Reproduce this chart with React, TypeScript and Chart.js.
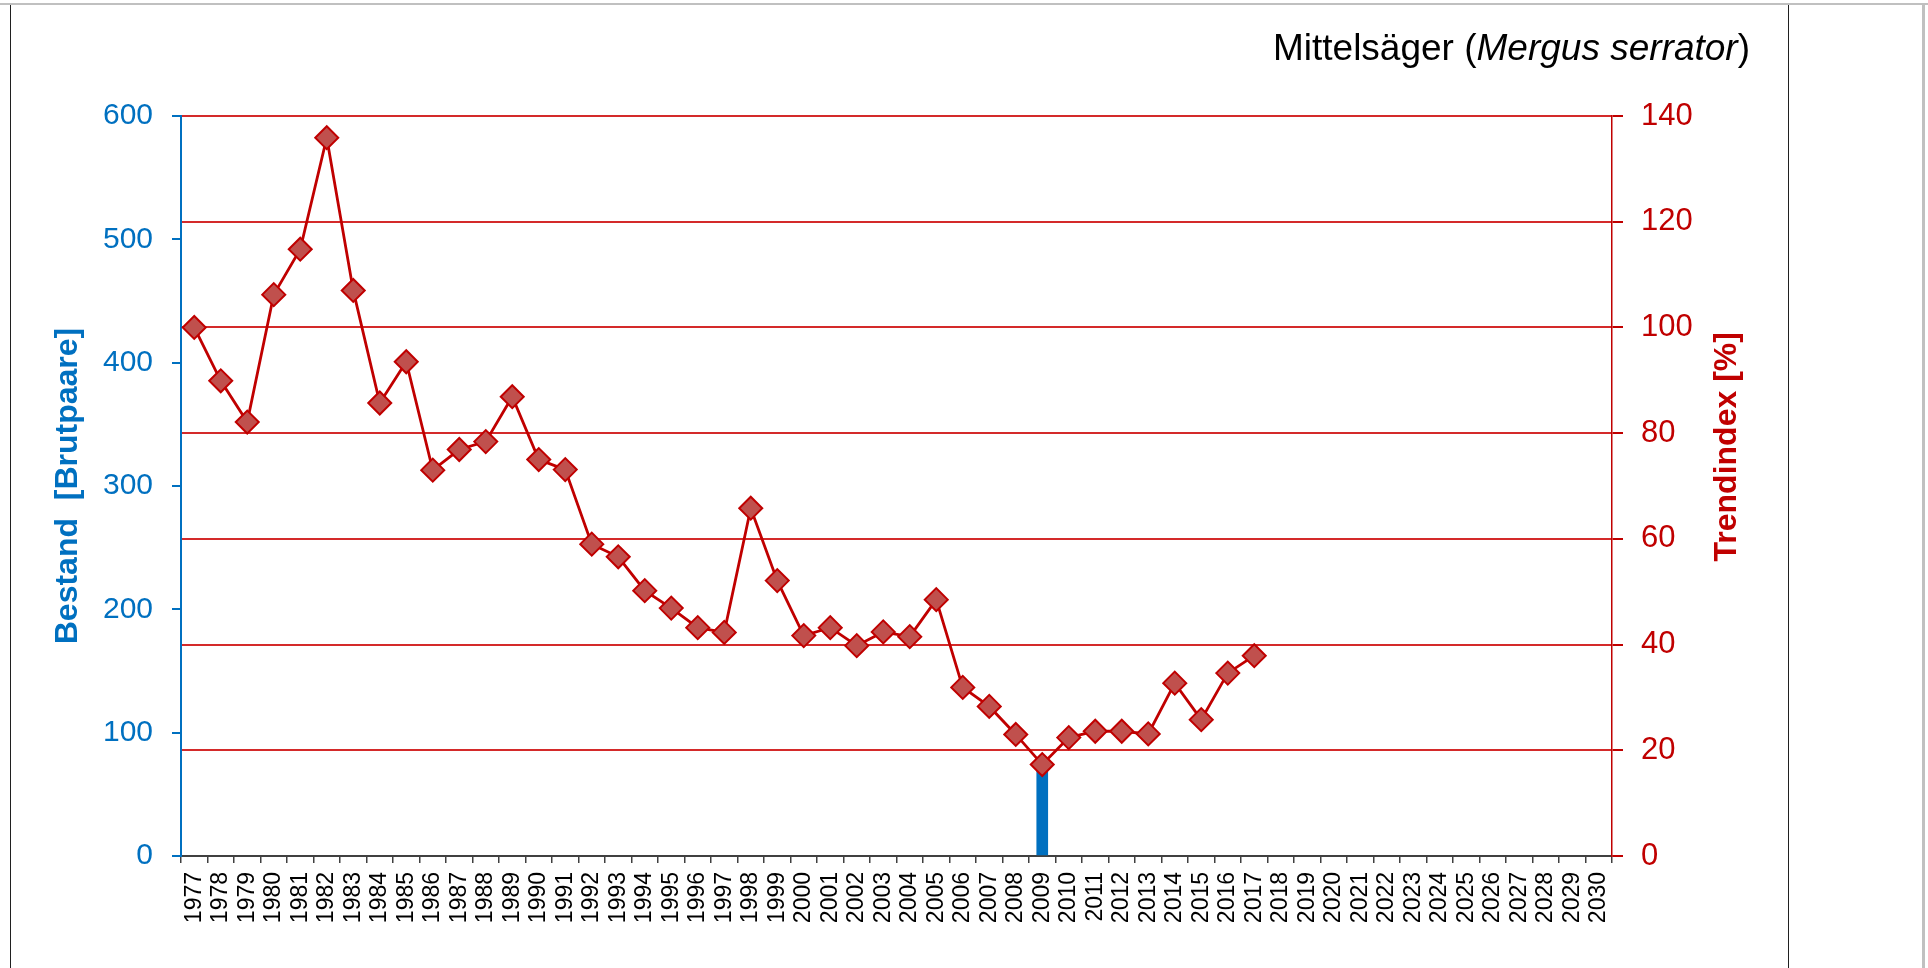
import React, { useEffect, useRef } from "react";
import { Chart, registerables } from "chart.js";

Chart.register(...registerables);

const FONT = "'Liberation Sans', Arial, Helvetica, sans-serif";

const years = [
  "1977", "1978", "1979", "1980", "1981", "1982", "1983", "1984", "1985", "1986",
  "1987", "1988", "1989", "1990", "1991", "1992", "1993", "1994", "1995", "1996",
  "1997", "1998", "1999", "2000", "2001", "2002", "2003", "2004", "2005", "2006",
  "2007", "2008", "2009", "2010", "2011", "2012", "2013", "2014", "2015", "2016",
  "2017", "2018", "2019", "2020", "2021", "2022", "2023", "2024", "2025", "2026",
  "2027", "2028", "2029", "2030",
];

// Trendindex [%], 1977–2017
const trendIndex = [
  100, 89.9, 82.1, 106.2, 114.8, 135.9, 107.0, 85.7, 93.5, 73.0,
  76.9, 78.4, 86.9, 75.0, 73.1, 59.0, 56.6, 50.2, 46.9, 43.2,
  42.3, 65.8, 52.1, 41.7, 43.2, 39.8, 42.4, 41.5, 48.5, 31.9,
  28.3, 23.0, 17.3, 22.4, 23.6, 23.6, 23.1, 32.7, 25.8, 34.6,
  37.9,
];

// Bestand [Brutpaare]
const bestandYears = ["2009"];
const bestandValues = [72];

const leftTicks = { min: 0, max: 600, step: 100 };
const rightTicks = { min: 0, max: 140, step: 20 };

const titleMain = "Mittelsäger (";
const titleItalic = "Mergus serrator";
const titleEnd = ")";
const leftAxisTitle = "Bestand  [Brutpaare]";
const rightAxisTitle = "Trendindex [%]";

const rightTitlePlugin = {
  id: "rightAxisTitle",
  afterDraw(chart: any) {
    const { ctx, chartArea } = chart;
    const s = chart.scales.y2;
    ctx.save();
    ctx.translate(s.right - 18, chartArea.top + chartArea.height * 0.447);
    ctx.rotate(-Math.PI / 2);
    ctx.font = `bold 32px ${FONT}`;
    ctx.fillStyle = "#c00000";
    ctx.textAlign = "center";
    ctx.textBaseline = "middle";
    ctx.fillText(rightAxisTitle, 0, 0);
    ctx.restore();
  },
};

export default function App() {
  const canvasRef = useRef<HTMLCanvasElement | null>(null);

  useEffect(() => {
    const canvas = canvasRef.current;
    if (!canvas) return;
    Chart.defaults.font.family = FONT;

    const chart = new Chart(canvas, {
      type: "bar",
      data: {
        labels: years,
        datasets: [
          {
            type: "line",
            label: "Trendindex",
            data: trendIndex,
            yAxisID: "y2",
            borderColor: "#c00000",
            borderWidth: 2.8,
            pointStyle: "rectRot",
            pointRadius: 11.5,
            pointHoverRadius: 11.5,
            pointBackgroundColor: "#c0504d",
            pointBorderColor: "#c00000",
            pointBorderWidth: 2,
            tension: 0,
            order: 0,
          } as any,
          {
            type: "bar",
            label: "Bestand",
            data: bestandYears.map((y, i) => ({ x: y, y: bestandValues[i] })),
            yAxisID: "y",
            backgroundColor: "#0070c0",
            barThickness: 11,
            order: 1,
          } as any,
        ],
      },
      options: {
        responsive: false,
        animation: false,
        devicePixelRatio: 1,
        layout: { padding: { left: 49, right: 183, top: 116, bottom: 0 } },
        plugins: {
          legend: { display: false },
          tooltip: { enabled: false },
          title: { display: false },
        },
        scales: {
          x: {
            offset: true,
            grid: {
              offset: true,
              drawOnChartArea: false,
              drawTicks: true,
              tickLength: 7,
              color: "#404040",
              lineWidth: 1.5,
            },
            border: { color: "#404040", width: 2 },
            ticks: {
              minRotation: 90,
              maxRotation: 90,
              autoSkip: false,
              color: "#000000",
              font: { size: 23 },
              padding: 9,
            },
            afterFit: (s: any) => {
              s.height = 112;
            },
          },
          y: {
            position: "left",
            min: leftTicks.min,
            max: leftTicks.max,
            ticks: {
              stepSize: leftTicks.step,
              color: "#0070c0",
              font: { size: 30 },
              padding: 19,
            },
            grid: {
              drawOnChartArea: false,
              tickLength: 9,
              color: "#0070c0",
              lineWidth: 2,
            },
            border: { color: "#0070c0", width: 2 },
            title: {
              display: true,
              text: leftAxisTitle,
              color: "#0070c0",
              font: { size: 32, weight: "bold" },
              padding: 0,
            },
            afterFit: (s: any) => {
              s.width = 132;
            },
          },
          y2: {
            position: "right",
            min: rightTicks.min,
            max: rightTicks.max,
            ticks: {
              stepSize: rightTicks.step,
              color: "#c00000",
              font: { size: 31 },
              padding: 18,
            },
            grid: {
              drawOnChartArea: true,
              tickLength: 11,
              color: (c: any) =>
                c.tick && c.tick.value === 0 ? "rgba(0,0,0,0)" : "#d42a2a",
              tickColor: "#c00000",
              lineWidth: 2,
            },
            border: { color: "#c00000", width: 1.5 },
            afterFit: (s: any) => {
              s.width = 133;
            },
          },
        },
      } as any,
      plugins: [rightTitlePlugin],
    });

    return () => chart.destroy();
  }, []);

  return (
    <div
      style={{
        position: "absolute",
        left: 0,
        top: 0,
        width: 1928,
        height: 968,
        overflow: "hidden",
        background: "#ffffff",
      }}
    >
      <canvas
        ref={canvasRef}
        width={1928}
        height={968}
        style={{ position: "absolute", left: 0, top: 0, width: 1928, height: 968 }}
      />
      <div style={{ position: "absolute", left: 0, top: 3, width: 1928, height: 2, background: "#c0c0c0" }} />
      <div style={{ position: "absolute", left: 10, top: 5, width: 1, height: 963, background: "#202020" }} />
      <div style={{ position: "absolute", left: 1788, top: 5, width: 1, height: 963, background: "#202020" }} />
      <div style={{ position: "absolute", left: 1922, top: 5, width: 3, height: 963, background: "#c0c0c0" }} />
      <div
        style={{
          position: "absolute",
          right: 1928 - 1750,
          top: 29,
          fontFamily: FONT,
          fontSize: 37,
          lineHeight: "37px",
          color: "#000000",
          whiteSpace: "nowrap",
        }}
      >
        {titleMain}
        <i>{titleItalic}</i>
        {titleEnd}
      </div>
    </div>
  );
}
